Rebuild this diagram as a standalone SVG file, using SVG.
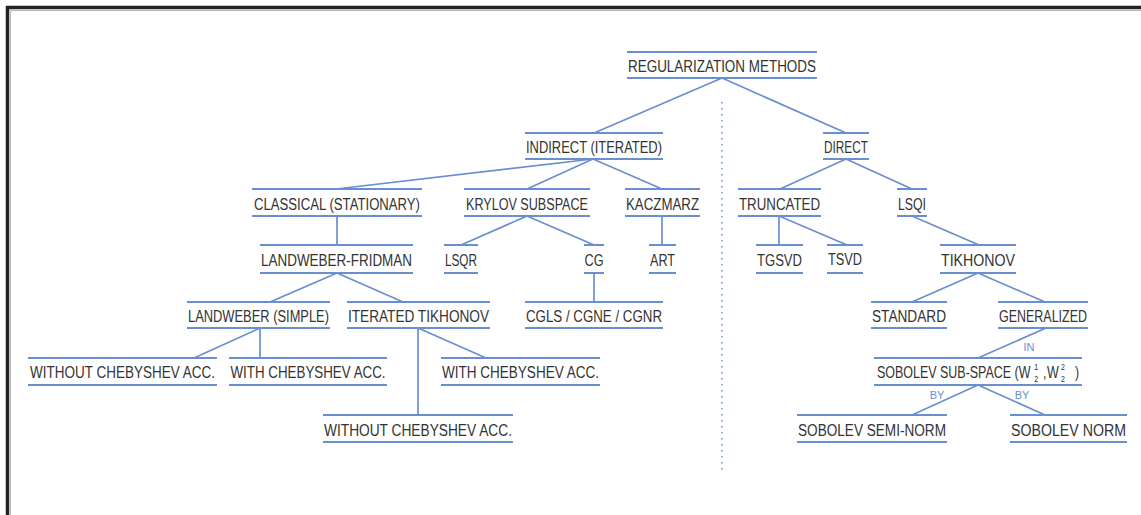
<svg xmlns="http://www.w3.org/2000/svg" width="1141" height="515" viewBox="0 0 1141 515">
<style>
.ln{stroke:#6a8ed2;stroke-width:2;fill:none}
.cn{stroke:#6a8ed2;stroke-width:1.7;fill:none}
.t{font-family:"Liberation Sans",Arial,sans-serif;font-size:16px;fill:#333333;text-anchor:middle}
.ts{font-family:"Liberation Sans",Arial,sans-serif;font-size:16px;fill:#333333;text-anchor:start}
.sm{font-size:9px}
.lb{font-family:"Liberation Sans",Arial,sans-serif;font-size:11px;fill:#6a8ed2;text-anchor:middle}
</style>
<rect x="0" y="0" width="1141" height="515" fill="#ffffff"/>
<g id="frame">
<path d="M7.5 515 V7.5 H1141" fill="none" stroke="#222" stroke-width="3.5"/>
<path d="M10.5 515 V10.5 H1141" fill="none" stroke="#b5b5b5" stroke-width="1"/>
</g>
<g id="connectors">
<line class="cn" x1="722" y1="78" x2="594" y2="133"/>
<line class="cn" x1="722" y1="78" x2="846" y2="133"/>
<line class="cn" x1="593" y1="159" x2="336" y2="189"/>
<line class="cn" x1="593" y1="159" x2="527" y2="189"/>
<line class="cn" x1="593" y1="159" x2="662" y2="189"/>
<line class="cn" x1="846" y1="159" x2="780" y2="189"/>
<line class="cn" x1="846" y1="159" x2="912" y2="189"/>
<line class="cn" x1="337" y1="216" x2="337" y2="245"/>
<line class="cn" x1="527" y1="216" x2="461" y2="245"/>
<line class="cn" x1="527" y1="216" x2="594" y2="245"/>
<line class="cn" x1="662" y1="216" x2="662" y2="245"/>
<line class="cn" x1="779" y1="216" x2="779" y2="245"/>
<line class="cn" x1="779" y1="216" x2="847" y2="245"/>
<line class="cn" x1="912" y1="216" x2="979" y2="245"/>
<line class="cn" x1="337" y1="273" x2="270" y2="302"/>
<line class="cn" x1="337" y1="273" x2="403" y2="302"/>
<line class="cn" x1="594" y1="273" x2="594" y2="302"/>
<line class="cn" x1="978" y1="273" x2="912" y2="302"/>
<line class="cn" x1="978" y1="273" x2="1045" y2="302"/>
<line class="cn" x1="260" y1="328" x2="194" y2="358"/>
<line class="cn" x1="260" y1="328" x2="260" y2="358"/>
<line class="cn" x1="418" y1="328" x2="418" y2="415"/>
<line class="cn" x1="418" y1="328" x2="486" y2="358"/>
<line class="cn" x1="1046" y1="328" x2="978" y2="358"/>
<line class="cn" x1="978" y1="385" x2="912" y2="415"/>
<line class="cn" x1="978" y1="385" x2="1045" y2="415"/>
<line x1="722" y1="102" x2="722" y2="472" stroke="#6a8ed2" stroke-width="1.5" stroke-dasharray="1.5 4.5"/>
<text class="lb" x="1029" y="351">IN</text>
<text class="lb" x="937" y="399">BY</text>
<text class="lb" x="1022" y="399">BY</text>
</g>
<g id="n-regularization">
<path class="ln" d="M627 52H817M627 78H817"/>
<text class="t" x="722" y="72" textLength="188" lengthAdjust="spacingAndGlyphs">REGULARIZATION METHODS</text>
</g>
<g id="n-indirect">
<path class="ln" d="M525 133H663M525 159H663"/>
<text class="t" x="594" y="153" textLength="136" lengthAdjust="spacingAndGlyphs">INDIRECT (ITERATED)</text>
</g>
<g id="n-direct">
<path class="ln" d="M823 133H869M823 159H869"/>
<text class="t" x="846" y="153" textLength="44" lengthAdjust="spacingAndGlyphs">DIRECT</text>
</g>
<g id="n-classical">
<path class="ln" d="M252 189H422M252 216H422"/>
<text class="t" x="337" y="210" textLength="166" lengthAdjust="spacingAndGlyphs">CLASSICAL (STATIONARY)</text>
</g>
<g id="n-krylov">
<path class="ln" d="M464 189H590M464 216H590"/>
<text class="t" x="527" y="210" textLength="122" lengthAdjust="spacingAndGlyphs">KRYLOV SUBSPACE</text>
</g>
<g id="n-kaczmarz">
<path class="ln" d="M625 189H700M625 216H700"/>
<text class="t" x="662.5" y="210" textLength="73" lengthAdjust="spacingAndGlyphs">KACZMARZ</text>
</g>
<g id="n-truncated">
<path class="ln" d="M738 189H821M738 216H821"/>
<text class="t" x="779.5" y="210" textLength="81" lengthAdjust="spacingAndGlyphs">TRUNCATED</text>
</g>
<g id="n-lsqi">
<path class="ln" d="M897 189H927M897 216H927"/>
<text class="t" x="912" y="210" textLength="28" lengthAdjust="spacingAndGlyphs">LSQI</text>
</g>
<g id="n-landweber-fridman">
<path class="ln" d="M260 245H413M260 273H413"/>
<text class="t" x="336.5" y="266" textLength="151" lengthAdjust="spacingAndGlyphs">LANDWEBER-FRIDMAN</text>
</g>
<g id="n-lsqr">
<path class="ln" d="M444 245H478M444 273H478"/>
<text class="t" x="461" y="266" textLength="32" lengthAdjust="spacingAndGlyphs">LSQR</text>
</g>
<g id="n-cg">
<path class="ln" d="M584 245H604M584 273H604"/>
<text class="t" x="594" y="266" textLength="19" lengthAdjust="spacingAndGlyphs">CG</text>
</g>
<g id="n-art">
<path class="ln" d="M649 245H676M649 273H676"/>
<text class="t" x="662.5" y="266" textLength="25" lengthAdjust="spacingAndGlyphs">ART</text>
</g>
<g id="n-tgsvd">
<path class="ln" d="M756 245H803M756 273H803"/>
<text class="t" x="779.5" y="266" textLength="45" lengthAdjust="spacingAndGlyphs">TGSVD</text>
</g>
<g id="n-tsvd">
<path class="ln" d="M827 245H863M827 273H863"/>
<text class="t" x="845" y="265" textLength="34" lengthAdjust="spacingAndGlyphs">TSVD</text>
</g>
<g id="n-tikhonov">
<path class="ln" d="M940 245H1016M940 273H1016"/>
<text class="t" x="978" y="266" textLength="74" lengthAdjust="spacingAndGlyphs">TIKHONOV</text>
</g>
<g id="n-landweber-simple">
<path class="ln" d="M187 302H330M187 328H330"/>
<text class="t" x="258.5" y="322" textLength="141" lengthAdjust="spacingAndGlyphs">LANDWEBER (SIMPLE)</text>
</g>
<g id="n-iterated-tikhonov">
<path class="ln" d="M347 302H490M347 328H490"/>
<text class="t" x="418.5" y="322" textLength="141" lengthAdjust="spacingAndGlyphs">ITERATED TIKHONOV</text>
</g>
<g id="n-cgls">
<path class="ln" d="M525 302H663M525 328H663"/>
<text class="t" x="594" y="322" textLength="136" lengthAdjust="spacingAndGlyphs">CGLS / CGNE / CGNR</text>
</g>
<g id="n-standard">
<path class="ln" d="M871 302H947M871 328H947"/>
<text class="t" x="909" y="322" textLength="74" lengthAdjust="spacingAndGlyphs">STANDARD</text>
</g>
<g id="n-generalized">
<path class="ln" d="M998 302H1088M998 328H1088"/>
<text class="t" x="1043" y="322" textLength="88" lengthAdjust="spacingAndGlyphs">GENERALIZED</text>
</g>
<g id="n-lw-without">
<path class="ln" d="M28 358H217M28 385H217"/>
<text class="t" transform="translate(122.5 378) scale(0.8435 1)" x="0" y="0">WITHOUT CHEBYSHEV ACC.</text>
</g>
<g id="n-lw-with">
<path class="ln" d="M229 358H387M229 385H387"/>
<text class="t" transform="translate(308 378) scale(0.8356 1)" x="0" y="0">WITH CHEBYSHEV ACC.</text>
</g>
<g id="n-it-with">
<path class="ln" d="M441 358H600M441 385H600"/>
<text class="t" x="520.5" y="378" textLength="157" lengthAdjust="spacingAndGlyphs">WITH CHEBYSHEV ACC.</text>
</g>
<g id="n-sobolev-subspace">
<path class="ln" d="M874 358H1082M874 385H1082"/>
<text class="ts" transform="translate(877 378) scale(0.78 1)" x="0" y="0">SOBOLEV SUB-SPACE (W<tspan class="sm" x="201.5" dy="4">2</tspan><tspan class="sm" x="201.5" dy="-12">1</tspan><tspan x="212.8" dy="8">,</tspan><tspan x="218">W</tspan><tspan class="sm" x="235.9" dy="4">2</tspan><tspan class="sm" x="235.9" dy="-12">2</tspan><tspan x="253.8" dy="8">)</tspan></text>
</g>
<g id="n-it-without">
<path class="ln" d="M323 415H513M323 442H513"/>
<text class="t" x="418" y="436" textLength="188" lengthAdjust="spacingAndGlyphs">WITHOUT CHEBYSHEV ACC.</text>
</g>
<g id="n-sobolev-semi">
<path class="ln" d="M797 415H947M797 442H947"/>
<text class="t" x="872" y="436" textLength="148" lengthAdjust="spacingAndGlyphs">SOBOLEV SEMI-NORM</text>
</g>
<g id="n-sobolev-norm">
<path class="ln" d="M1010 415H1127M1010 442H1127"/>
<text class="t" x="1068.5" y="436" textLength="115" lengthAdjust="spacingAndGlyphs">SOBOLEV NORM</text>
</g>
</svg>
